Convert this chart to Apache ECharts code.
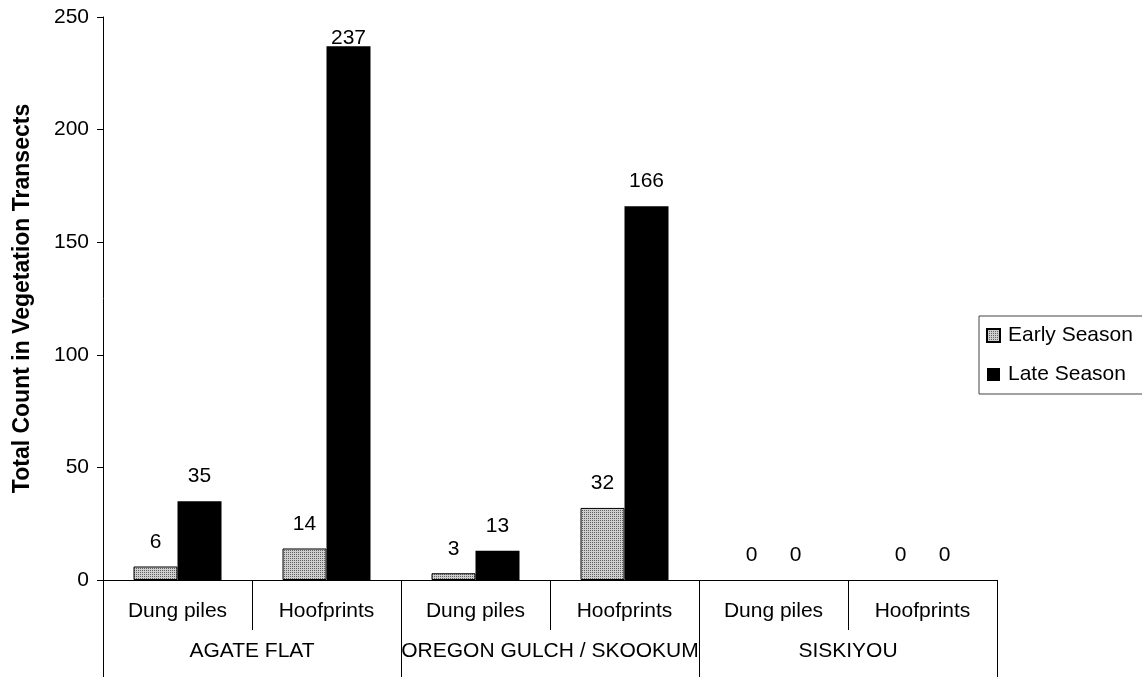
<!DOCTYPE html>
<html>
<head>
<meta charset="utf-8">
<script src="https://cdn.jsdelivr.net/npm/echarts@6/dist/echarts.min.js"></script>
<style>
html,body{margin:0;padding:0;background:#fff;}
#chart{width:1142px;height:677px;}
</style>
</head>
<body>
<div id="chart"></div>
<script>
const subCategories = ['Dung piles', 'Hoofprints', 'Dung piles', 'Hoofprints', 'Dung piles', 'Hoofprints'];
const groups = ['AGATE FLAT', 'OREGON GULCH / SKOOKUM', 'SISKIYOU'];
const earlySeason = [6, 14, 3, 32, 0, 0];
const lateSeason = [35, 237, 13, 166, 0, 0];
const yTicks = { min: 0, max: 250, interval: 50 };
const yTitle = 'Total Count in Vegetation Transects';

const FONT = "'Liberation Sans', Arial, sans-serif";
const FS = 21;

// dotted gray pattern
const pc = document.createElement('canvas');
pc.width = 2; pc.height = 2;
const pctx = pc.getContext('2d');
pctx.fillStyle = '#cecece'; pctx.fillRect(0, 0, 2, 2);
pctx.fillStyle = '#626262'; pctx.fillRect(0, 0, 1, 1);
const pattern = { image: pc, repeat: 'repeat' };

// Labels near the top of the plot are pushed down (kept inside the plot area), zero bars have no outline
function toItems(values, border) {
  return values.map(v => ({
    value: v,
    itemStyle: { borderWidth: v === 0 ? 0 : border },
    label: { distance: v > 0.9 * yTicks.max ? -2 : 14 }
  }));
}

const chart = echarts.init(document.getElementById('chart'), null, { renderer: 'canvas' });
const labelStyle = { show: true, position: 'top', color: '#000', fontSize: FS, fontFamily: FONT };

chart.setOption({
  animation: false,
  backgroundColor: '#fff',
  grid: { left: 103, right: 145, top: 17, bottom: 97, containLabel: false, outerBoundsMode: 'none' },
  legend: {
    orient: 'vertical',
    left: 979, top: 316,
    padding: [9, 60, 9, 7],
    borderColor: '#444', borderWidth: 1,
    itemWidth: 13, itemHeight: 13, itemGap: 18,
    textStyle: { fontSize: FS, fontFamily: FONT, color: '#000', padding: [0, 0, 0, 3] },
    data: [
      { name: 'Early Season', icon: 'rect' },
      { name: 'Late Season', icon: 'rect' }
    ]
  },
  xAxis: [
    {
      type: 'category',
      data: subCategories,
      position: 'bottom',
      axisLine: { show: true, lineStyle: { color: '#000', width: 1 } },
      axisTick: { show: true, length: 50, interval: 0, lineStyle: { color: '#000' } },
      axisLabel: { interval: 0, margin: 21, color: '#000', fontSize: FS, fontFamily: FONT },
      splitLine: { show: false }
    },
    {
      type: 'category',
      data: groups,
      position: 'bottom',
      axisLine: { show: false },
      axisTick: { show: true, length: 97, interval: 0, lineStyle: { color: '#000' } },
      axisLabel: { interval: 0, margin: 61, color: '#000', fontSize: FS, fontFamily: FONT },
      splitLine: { show: false }
    }
  ],
  yAxis: {
    type: 'value',
    min: yTicks.min, max: yTicks.max, interval: yTicks.interval,
    name: yTitle,
    nameLocation: 'middle',
    nameGap: 69,
    nameTextStyle: { fontSize: 23, fontWeight: 'bold', fontFamily: FONT, color: '#000' },
    axisLine: { show: true, lineStyle: { color: '#000', width: 1 } },
    axisTick: { show: true, length: 6, lineStyle: { color: '#000' } },
    axisLabel: { margin: 14, color: '#000', fontSize: FS, fontFamily: FONT },
    splitLine: { show: false }
  },
  series: [
    {
      name: 'Early Season',
      type: 'bar',
      xAxisIndex: 0,
      data: toItems(earlySeason, 1),
      barWidth: 44,
      barGap: '0%',
      itemStyle: { color: pattern, borderColor: '#000', borderWidth: 1 },
      label: labelStyle
    },
    {
      name: 'Late Season',
      type: 'bar',
      xAxisIndex: 0,
      data: toItems(lateSeason, 0),
      barWidth: 44,
      barGap: '0%',
      itemStyle: { color: '#000', borderWidth: 0 },
      label: labelStyle
    }
  ]
});
</script>
</body>
</html>
